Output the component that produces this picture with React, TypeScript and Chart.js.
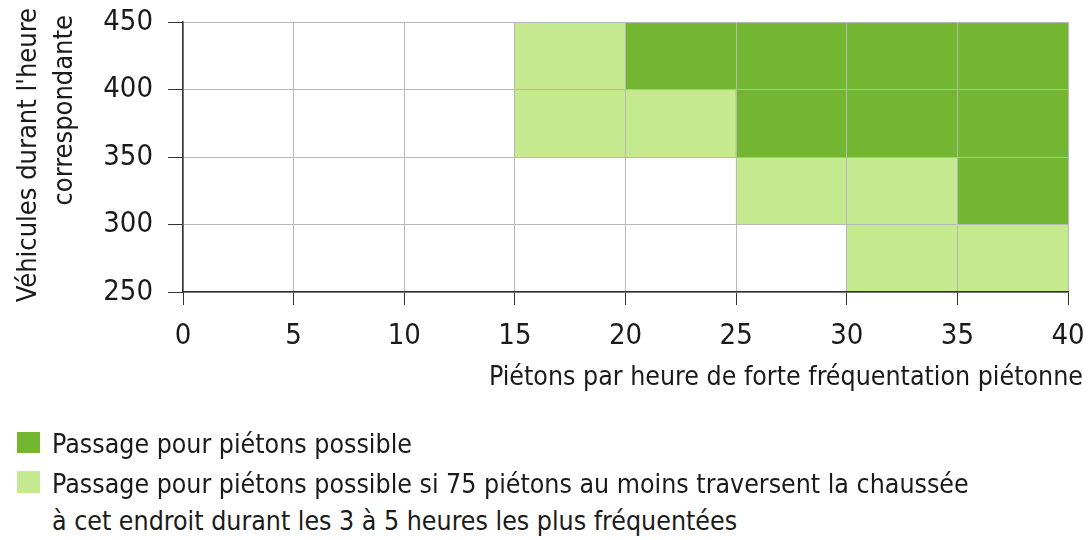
import React, { useEffect, useRef } from "react";
import { Chart, registerables } from "chart.js";

Chart.register(...registerables);

// ---- data ----
const pietonTicks = [0, 5, 10, 15, 20, 25, 30, 35, 40];
const vehiculeTicks = [250, 300, 350, 400, 450];
const pietonStep = 5;
const vehiculeStep = 50;

// lower-left corner of each cell [piétons, véhicules]
const possibleCells: [number, number][] = [
  [20, 400], [25, 400], [30, 400], [35, 400],
  [25, 350], [30, 350], [35, 350],
  [35, 300],
];
const conditionalCells: [number, number][] = [
  [15, 400],
  [15, 350], [20, 350],
  [25, 300], [30, 300],
  [30, 250], [35, 250],
];

const legendPossible = "Passage pour piétons possible";
const legendConditional1 = "Passage pour piétons possible si 75 piétons au moins traversent la chaussée";
const legendConditional2 = "à cet endroit durant les 3 à 5 heures les plus fréquentées";
const xTitle = "Piétons par heure de forte fréquentation piétonne";
const yTitle1 = "Véhicules durant l'heure";
const yTitle2 = "correspondante";

const DARK = "#72b632";
const LIGHT = "#c4e98e";
const FONT = "'DejaVu Sans Condensed', 'Liberation Sans Narrow', sans-serif";
const TEXT = "#1a1a1a";

const toBars = (cells: [number, number][]) =>
  cells.map(([x, y]) => ({ x: x + pietonStep / 2, y: [y, y + vehiculeStep] }));

export default function App() {
  const ref = useRef<HTMLCanvasElement>(null);

  useEffect(() => {
    const chart = new Chart(ref.current as HTMLCanvasElement, {
      type: "bar",
      data: {
        datasets: [
          {
            label: legendPossible,
            data: toBars(possibleCells) as any,
            backgroundColor: DARK,
            borderWidth: 0,
            grouped: false,
            barPercentage: 1,
            categoryPercentage: 1,
          },
          {
            label: legendConditional1,
            data: toBars(conditionalCells) as any,
            backgroundColor: LIGHT,
            borderWidth: 0,
            grouped: false,
            barPercentage: 1,
            categoryPercentage: 1,
          },
        ],
      },
      options: {
        responsive: false,
        animation: false,
        events: [],
        layout: { padding: { left: 0, right: 23, top: 22, bottom: 0 } },
        plugins: { legend: { display: false }, tooltip: { enabled: false } },
        scales: {
          x: {
            type: "linear",
            min: pietonTicks[0],
            max: pietonTicks[pietonTicks.length - 1],
            offset: false,
            afterBuildTicks: (s: any) => {
              s.ticks = pietonTicks.map((v) => ({ value: v }));
            },
            afterFit: (s: any) => {
              s.height = 108;
              s.paddingLeft = 0;
              s.paddingRight = 0;
            },
            grid: {
              offset: false,
              color: "#b8b8b8",
              lineWidth: 1,
              tickColor: "#333",
              tickLength: 13,
              z: 1,
            },
            border: { color: "#333", width: 1.5, z: 2 },
            ticks: {
              color: TEXT,
              padding: 14,
              maxRotation: 0,
              font: { family: FONT, size: 29 },
            },
          },
          y: {
            type: "linear",
            min: vehiculeTicks[0],
            max: vehiculeTicks[vehiculeTicks.length - 1],
            afterBuildTicks: (s: any) => {
              s.ticks = vehiculeTicks.map((v) => ({ value: v }));
            },
            afterFit: (s: any) => {
              s.width = 183;
              s.paddingTop = 0;
              s.paddingBottom = 0;
            },
            grid: {
              color: "#b8b8b8",
              lineWidth: 1,
              tickColor: "#333",
              tickLength: 15,
              z: 1,
            },
            border: { color: "#333", width: 1.5, z: 2 },
            ticks: {
              color: TEXT,
              padding: 15,
              font: { family: FONT, size: 29 },
            },
          },
        },
      },
    } as any);
    return () => chart.destroy();
  }, []);

  const fs = 26.5;
  const base = 0.846 * fs;
  const textStyle: React.CSSProperties = {
    position: "absolute",
    fontSize: fs,
    lineHeight: `${fs}px`,
    whiteSpace: "nowrap",
    color: TEXT,
  };

  return (
    <div
      style={{
        position: "fixed",
        left: 0,
        top: 0,
        width: 1091,
        height: 540,
        background: "#fff",
        fontFamily: FONT,
        overflow: "hidden",
      }}
    >
      <canvas ref={ref} width={1091} height={400} style={{ position: "absolute", left: 0, top: 0 }} />

      {/* y-axis title, rotated */}
      <div
        style={{
          ...textStyle,
          fontSize: 27,
          lineHeight: "27px",
          left: 36 - 0.846 * 27,
          top: 306,
          width: 298,
          textAlign: "right",
          transform: "rotate(-90deg)",
          transformOrigin: "0 0",
        }}
      >
        {yTitle1}
      </div>
      <div
        style={{
          ...textStyle,
          fontSize: 27,
          lineHeight: "27px",
          left: 72 - 0.846 * 27,
          top: 215,
          width: 200,
          textAlign: "right",
          transform: "rotate(-90deg)",
          transformOrigin: "0 0",
        }}
      >
        {yTitle2}
      </div>

      {/* x-axis title */}
      <div style={{ ...textStyle, left: 0, width: 1083, textAlign: "right", top: 385 - base }}>{xTitle}</div>

      {/* legend */}
      <div style={{ position: "absolute", left: 17, top: 432, width: 23, height: 21, background: DARK }} />
      <div style={{ ...textStyle, left: 52, top: 453 - base }}>{legendPossible}</div>
      <div style={{ position: "absolute", left: 17, top: 471, width: 23, height: 22, background: LIGHT }} />
      <div style={{ ...textStyle, left: 52, top: 493 - base }}>{legendConditional1}</div>
      <div style={{ ...textStyle, left: 52, top: 530 - base }}>{legendConditional2}</div>
    </div>
  );
}
